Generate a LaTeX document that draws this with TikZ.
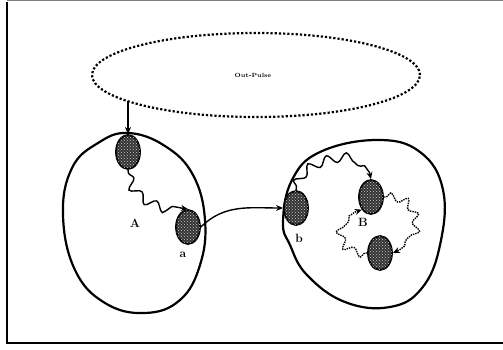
\documentclass[tikz,border=0pt]{standalone}
\usetikzlibrary{shapes.geometric,decorations.pathmorphing,arrows.meta,patterns}
\begin{document}
\begin{tikzpicture}[x=1pt,y=-1pt,
  blob/.style={ellipse,draw,line width=1.8pt,fill=black!80,postaction={pattern=crosshatch dots,pattern color=white!80!black},minimum width=24pt,minimum height=34pt,inner sep=0pt},
  region/.style={line width=2.2pt},
  lbl/.style={font=\bfseries\large},
  wig/.style={decorate,decoration={snake,amplitude=4.5pt,segment length=19pt,pre length=3pt,post length=7pt}},
  dwig/.style={decorate,decoration={snake,amplitude=4pt,segment length=16pt,pre length=2pt,post length=7pt},densely dotted},
  arr/.style={-{Stealth[length=7pt,width=6pt]},line width=1.4pt}]
\useasboundingbox (0,0) rectangle (503,349);
% frame
\draw[line width=1.8pt] (7,2) -- (7,343) -- (503,343);
\draw[gray,line width=0.8pt] (7,0.5) -- (503,0.5);
% Out-Pulse ellipse
\node[ellipse,draw,dotted,line width=2.2pt,minimum width=328pt,minimum height=84pt] (op) at (256,75) {};
\node[font=\fontsize{6}{7}\selectfont\bfseries] (opl) at (253,75) {Out-Pulse};
% left region
\draw[region] plot[smooth cycle,tension=0.7] coordinates {(128,133) (165,146) (193,175) (205,220) (200,265) (180,300) (145,313) (105,303) (75,270) (63,215) (72,168) (98,143)};
% right region
\draw[region] plot[smooth cycle,tension=0.7] coordinates {(377,140) (420,152) (443,190) (440,245) (422,288) (390,307) (345,302) (307,275) (290,245) (283,222) (292,180) (320,152)};
% blobs
\node[blob] (n1) at (128,152) {};
\node[blob] (na) at (188,227) {};
\node[blob] (nb) at (296,208) {};
\node[blob] (nB) at (371,197) {};
\node[blob] (nc) at (380,253) {};
% labels
\node[lbl] (lA) at (135,223) {A};
\node[lbl] (la) at (183,255) {a};
\node[lbl] (lb) at (299,238) {b};
\node[lbl] (lB) at (363,222) {B};
% connectors
\draw[arr] (n1.north |- op.191.5) -- (n1.north);
\draw[arr,wig] (n1.south) .. controls (130,195) and (160,205) .. (na.north);
\draw[arr] (na.east) to[out=45,in=180] (nb.west);
\draw[arr,wig] (nb.north) .. controls (298,162) and (370,148) .. (nB.north);
\draw[arr,dwig] (nB.east) .. controls (420,195) and (420,245) .. (nc.east);
\draw[arr,dwig] (nc.west) .. controls (340,255) and (335,215) .. (nB.south west);
\end{tikzpicture}
\end{document}
